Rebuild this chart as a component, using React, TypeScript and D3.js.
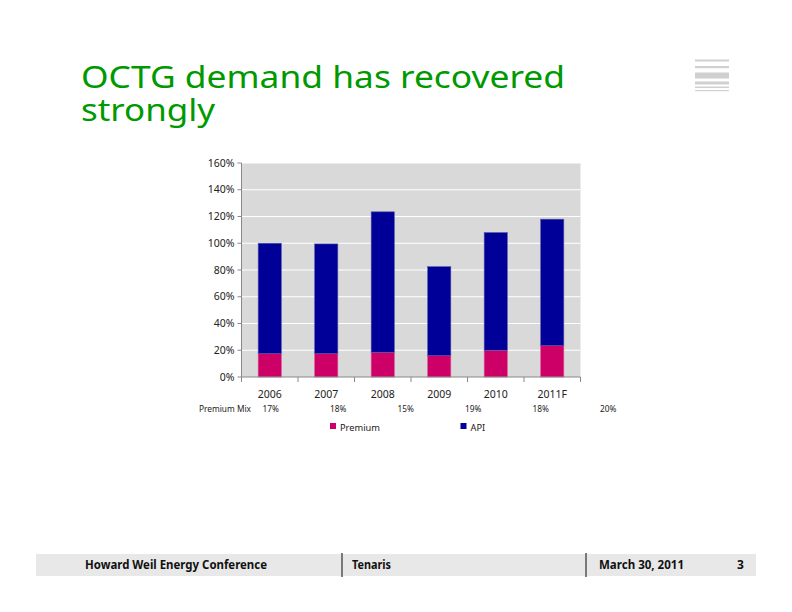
import React from "react";
import * as d3 from "d3";

// Chart data
const years = ["2006", "2007", "2008", "2009", "2010", "2011F"];
const premium = [17.5, 17.5, 18.5, 16, 20, 23.5];
const api = [82.5, 82, 105, 66.5, 88, 94.5];
const yTicks = [0, 20, 40, 60, 80, 100, 120, 140, 160];
const mixLabels = ["17%", "18%", "15%", "19%", "18%", "20%"];
const seriesNames = ["Premium", "API"];
const seriesColors = ["#cc0066", "#000099"];

const W = 792;
const H = 612;
const plot = { left: 241.5, right: 580.5, top: 163, bottom: 377 };
const font = "'Noto Sans', 'Open Sans', sans-serif";

export default function App() {
  const x = d3
    .scaleBand<string>()
    .domain(years)
    .range([plot.left, plot.right])
    .paddingInner(0.59)
    .paddingOuter(0.295);

  const y = d3.scaleLinear().domain([0, 160]).range([plot.bottom, plot.top]);

  const rows = years.map((yr, i) => ({ year: yr, Premium: premium[i], API: api[i] }));
  const stacked = d3.stack<any>().keys(seriesNames)(rows);

  const step = x.step();
  const boundaries = d3.range(years.length + 1).map((i) => plot.left + i * step);

  // "Premium Mix" row positions (spread wider than the bars in the original)
  const mixX = d3.scaleLinear().domain([0, 5]).range([262.5, 600]);

  return (
    <svg
      width={W}
      height={H}
      style={{ position: "absolute", left: 0, top: 0, display: "block" }}
      fontFamily={font}
    >
      <rect x={0} y={0} width={W} height={H} fill="#ffffff" />

      {/* Title */}
      <text x={81} y={87.5} fontSize={31} fill="#009900" textLength={484} lengthAdjust="spacingAndGlyphs">
        OCTG demand has recovered
      </text>
      <text x={81} y={121} fontSize={31} fill="#009900" textLength={134} lengthAdjust="spacingAndGlyphs">
        strongly
      </text>

      {/* Logo stripes top-right */}
      <g fill="#d0d0d0">
        <rect x={695} y={59.5} width={34} height={2} />
        <rect x={695} y={66} width={34} height={2.2} />
        <rect x={695} y={72.5} width={34} height={6} />
        <rect x={695} y={81.5} width={34} height={3} />
        <rect x={695} y={86.5} width={34} height={1.5} />
        <rect x={695} y={90} width={34} height={1.2} />
      </g>

      {/* Plot background */}
      <rect
        x={plot.left}
        y={plot.top}
        width={plot.right - plot.left}
        height={plot.bottom - plot.top}
        fill="#d9d9d9"
      />
      {yTicks.slice(1).map((t) => (
        <line
          key={"g" + t}
          x1={plot.left}
          x2={plot.right}
          y1={y(t)}
          y2={y(t)}
          stroke="#ffffff"
          strokeWidth={1}
        />
      ))}

      {/* Bars */}
      {stacked.map((layer, si) => (
        <g key={layer.key} fill={seriesColors[si]}>
          {layer.map((d, i) => (
            <rect
              key={i}
              x={x(years[i])}
              y={y(d[1])}
              width={x.bandwidth()}
              height={y(d[0]) - y(d[1])}
              stroke={si === 1 ? "#5555aa" : "#dd5599"}
              strokeWidth={0.6}
            />
          ))}
        </g>
      ))}

      {/* Y axis */}
      <line x1={plot.left} x2={plot.left} y1={plot.top} y2={plot.bottom} stroke="#888888" strokeWidth={1} />
      {yTicks.map((t) => (
        <g key={"t" + t}>
          <line x1={plot.left - 4} x2={plot.left} y1={y(t)} y2={y(t)} stroke="#888888" strokeWidth={1} />
          <text
            x={plot.left - 7}
            y={y(t)}
            dy="0.35em"
            textAnchor="end"
            fontSize={10.5}
            fill="#222222"
          >
            {t}%
          </text>
        </g>
      ))}

      {/* X axis */}
      <line x1={plot.left} x2={plot.right} y1={plot.bottom} y2={plot.bottom} stroke="#888888" strokeWidth={1} />
      {boundaries.map((bx, i) => (
        <line key={"b" + i} x1={bx} x2={bx} y1={plot.bottom} y2={plot.bottom + 5} stroke="#888888" strokeWidth={1} />
      ))}
      {years.map((yr) => (
        <text
          key={"c" + yr}
          x={(x(yr) as number) + x.bandwidth() / 2}
          y={398}
          textAnchor="middle"
          fontSize={10.5}
          fill="#222222"
        >
          {yr}
        </text>
      ))}

      {/* Premium mix row */}
      <text x={199} y={412} fontSize={8.3} fill="#222222">
        Premium Mix
      </text>
      {mixLabels.map((m, i) => (
        <text key={"m" + i} x={mixX(i)} y={412} fontSize={8.3} fill="#222222">
          {m}
        </text>
      ))}

      {/* Legend */}
      {seriesNames.map((s, i) => (
        <g key={"l" + s} transform={`translate(${i === 0 ? 330 : 460.5},423)`}>
          <rect x={0} y={0} width={6} height={6} fill={seriesColors[i]} />
          <text x={10} y={7.5} fontSize={9.3} fill="#222222">
            {s}
          </text>
        </g>
      ))}

      {/* Footer */}
      <rect x={36} y={554} width={720} height={22} fill="#e8e8e8" />
      <line x1={342} x2={342} y1={553} y2={577} stroke="#555555" strokeWidth={1.5} />
      <line x1={586} x2={586} y1={553} y2={577} stroke="#555555" strokeWidth={1.5} />
      <g fontSize={12} fontWeight="bold" fill="#111111">
        <text x={85} y={568.5} textLength={182} lengthAdjust="spacingAndGlyphs">
          Howard Weil Energy Conference
        </text>
        <text x={352} y={568.5} textLength={39} lengthAdjust="spacingAndGlyphs">
          Tenaris
        </text>
        <text x={599} y={568.5} textLength={85} lengthAdjust="spacingAndGlyphs">
          March 30, 2011
        </text>
        <text x={737} y={568.5}>
          3
        </text>
      </g>
    </svg>
  );
}
